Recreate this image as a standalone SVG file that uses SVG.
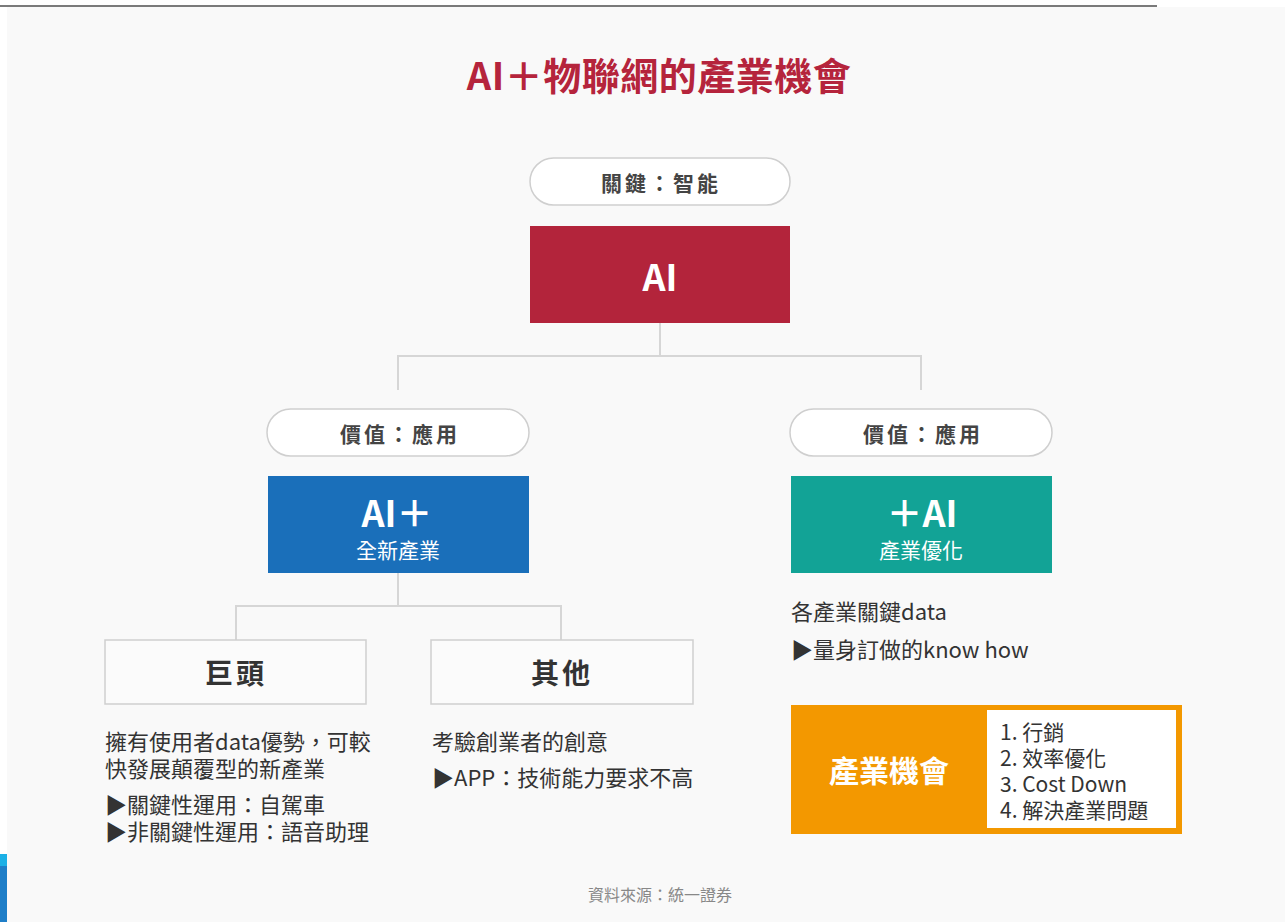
<svg xmlns="http://www.w3.org/2000/svg" width="1285" height="922" viewBox="0 0 1285 922">
<style>
.t{font-family:"Noto Sans CJK TC","Noto Sans",sans-serif}
.pill{fill:#ffffff;stroke:#cfcfcf;stroke-width:1.5}
.pt{font-size:21px;font-weight:700;fill:#444;letter-spacing:3px}
.wt{fill:#ffffff;font-weight:700}
.box{fill:#fbfbfb;stroke:#cfcfcf;stroke-width:1.5}
.body{font-size:22px;fill:#333}
.li{font-size:21px;fill:#333}
.conn{fill:none;stroke:#d6d6d6;stroke-width:2}
</style>
<rect x="0" y="0" width="1285" height="922" fill="#ffffff"/>
<rect x="7" y="7" width="1278" height="915" fill="#f9f9f9"/>
<rect x="0" y="5" width="1157" height="2" fill="#7a7a7a"/>
<rect x="0" y="854" width="7" height="12" fill="#1bb0e6"/>
<rect x="0" y="866" width="7" height="56" fill="#1e7ec8"/>

<text class="t" x="659" y="90" text-anchor="middle" font-size="38" font-weight="700" fill="#b5243c" letter-spacing="0.5">AI＋物聯網的產業機會</text>

<g id="connectors">
<path class="conn" d="M660 323V356M398 390V356H921V390"/>
<path class="conn" d="M398 573V606M236 640V606H561V640"/>
</g>

<g id="pill-key">
<rect class="pill" x="530" y="158" width="260" height="47" rx="23.5"/>
<text class="t pt" x="661" y="182" text-anchor="middle" dominant-baseline="central">關鍵：智能</text>
</g>
<g id="node-ai">
<rect x="530" y="226" width="260" height="97" fill="#b3243b"/>
<text class="t wt" x="660" y="275" text-anchor="middle" dominant-baseline="central" font-size="36">AI</text>
</g>
<g id="pill-left">
<rect class="pill" x="267" y="409" width="262" height="47" rx="23.5"/>
<text class="t pt" x="400" y="433" text-anchor="middle" dominant-baseline="central">價值：應用</text>
</g>
<g id="pill-right">
<rect class="pill" x="790" y="409" width="262" height="47" rx="23.5"/>
<text class="t pt" x="923" y="433" text-anchor="middle" dominant-baseline="central">價值：應用</text>
</g>
<g id="node-ai-plus">
<rect x="268" y="476" width="261" height="97" fill="#1a6fba"/>
<text class="t wt" x="397" y="511" text-anchor="middle" dominant-baseline="central" font-size="36">AI＋</text>
<text class="t" x="398" y="549" text-anchor="middle" dominant-baseline="central" font-size="21" fill="#ffffff">全新產業</text>
</g>
<g id="node-plus-ai">
<rect x="791" y="476" width="261" height="97" fill="#12a396"/>
<text class="t wt" x="922" y="511" text-anchor="middle" dominant-baseline="central" font-size="36">＋AI</text>
<text class="t" x="921" y="549" text-anchor="middle" dominant-baseline="central" font-size="21" fill="#ffffff">產業優化</text>
</g>
<g id="node-giant">
<rect class="box" x="105" y="640" width="261" height="64"/>
<text class="t" x="236" y="672" text-anchor="middle" dominant-baseline="central" font-size="28" font-weight="700" fill="#333" letter-spacing="3">巨頭</text>
<text class="t body" x="105" y="740" dominant-baseline="central">擁有使用者data優勢，可較</text>
<text class="t body" x="105" y="767" dominant-baseline="central">快發展顛覆型的新產業</text>
<text class="t body" x="105" y="803" dominant-baseline="central">▶關鍵性運用：自駕車</text>
<text class="t body" x="105" y="830" dominant-baseline="central">▶非關鍵性運用：語音助理</text>
</g>
<g id="node-other">
<rect class="box" x="431" y="640" width="262" height="64"/>
<text class="t" x="562" y="672" text-anchor="middle" dominant-baseline="central" font-size="28" font-weight="700" fill="#333" letter-spacing="3">其他</text>
<text class="t body" x="432" y="740" dominant-baseline="central">考驗創業者的創意</text>
<text class="t body" x="432" y="776" dominant-baseline="central">▶APP：技術能力要求不高</text>
</g>
<g id="note-right">
<text class="t body" x="791" y="610" dominant-baseline="central">各產業關鍵data</text>
<text class="t body" x="791" y="648" dominant-baseline="central">▶量身訂做的know how</text>
</g>
<g id="node-opportunity">
<rect x="791" y="705" width="391" height="129" fill="#f39800"/>
<rect x="987" y="710" width="189" height="118" fill="#ffffff"/>
<text class="t wt" x="889" y="769" text-anchor="middle" dominant-baseline="central" font-size="30">產業機會</text>
<text class="t li" x="1000" y="731" dominant-baseline="central">1. 行銷</text>
<text class="t li" x="1000" y="757" dominant-baseline="central">2. 效率優化</text>
<text class="t li" x="1000" y="783" dominant-baseline="central">3. Cost Down</text>
<text class="t li" x="1000" y="809" dominant-baseline="central">4. 解決產業問題</text>
</g>
<text class="t" x="660" y="894" text-anchor="middle" dominant-baseline="central" font-size="16" fill="#888">資料來源：統一證券</text>
</svg>
